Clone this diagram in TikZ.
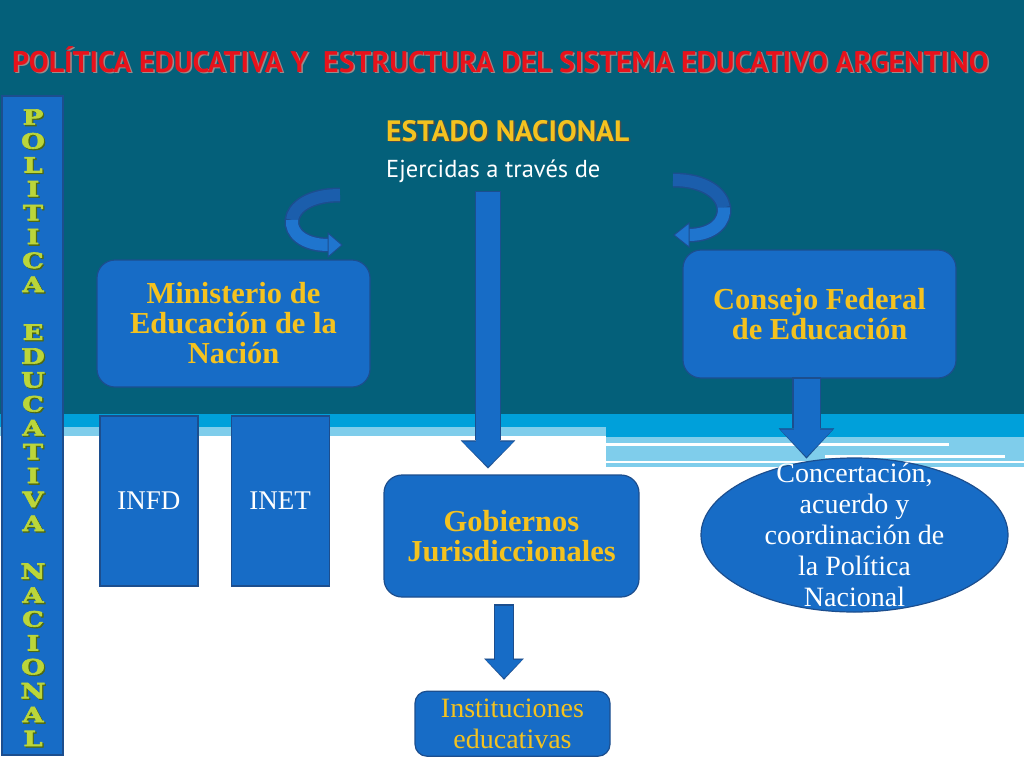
\documentclass[tikz,border=0pt]{standalone}
\usepackage{fontspec}
\setmainfont{Liberation Serif}
\newfontfamily\titulofont{PT Sans}
\newfontfamily\letrafont[FakeBold=3,FakeStretch=1.3]{DejaVu Serif}
\usepackage{xcolor}
\usetikzlibrary{arrows.meta,positioning,shapes.geometric,calc}

\definecolor{fondo}{HTML}{04607A}
\definecolor{franja}{HTML}{00A0DA}
\definecolor{franjaclara}{HTML}{7FCDEB}
\definecolor{azulcaja}{HTML}{176CC6}
\definecolor{bordeazul}{HTML}{1C4E8E}
\definecolor{dorado}{HTML}{F4C21F}
\definecolor{rojotitulo}{HTML}{E8121B}
\definecolor{sombratitulo}{HTML}{9A8C8C}
\definecolor{verdeletra}{HTML}{BBD63A}
\definecolor{verdeoscuro}{HTML}{4F6A12}
\definecolor{curvaatras}{HTML}{1B5EAC}
\definecolor{curvadelante}{HTML}{1F75CE}

\tikzset{
    titulo/.style={
        anchor=base west,
        inner sep=0pt,
        text=rojotitulo,
        font=\titulofont\bfseries\fontsize{29.8}{30}\selectfont
    },
    barra/.style={
        draw=bordeazul,
        fill=azulcaja,
        line width=1.2pt,
        minimum width=61pt,
        minimum height=659pt
    },
    letra/.style={
        inner sep=0pt,
        text=verdeletra,
        font=\letrafont\bfseries\fontsize{21}{21}\selectfont
    },
    caja/.style={
        draw=bordeazul,
        fill=azulcaja,
        line width=1.2pt,
        rounded corners=18pt,
        align=center,
        text=dorado,
        font=\bfseries\fontsize{30.5}{30}\selectfont
    },
    bloque/.style={
        draw=bordeazul,
        fill=azulcaja,
        line width=1.2pt,
        text=white,
        font=\fontsize{27}{31}\selectfont
    },
    textonormal/.style={
        align=center,
        inner sep=0pt,
        font=\fontsize{28}{31}\selectfont
    }
}

% flecha ancha con borde: inicio, fin, ancho, ancho punta, largo punta
\newcommand{\flechabloque}[5]{%
    \pgfmathsetmacro{\anchoborde}{#3+2.4}%
    \pgfmathsetmacro{\puntaborde}{#4+3.4}%
    \pgfmathsetmacro{\largoborde}{#5+3}%
    \draw[line width=\anchoborde pt, bordeazul, shorten <=-1.2pt,
        -{Triangle[width=\puntaborde pt, length=\largoborde pt, line width=0.01pt]}] #1 -- #2;
    \draw[line width=#3pt, azulcaja, shorten >=1.7pt,
        -{Triangle[width=#4pt, length=#5pt, line width=0.01pt]}] #1 -- #2;
}

\begin{document}
\begin{tikzpicture}[x=1pt,y=-1pt]
    \useasboundingbox (0,0) rectangle (1024,768);

    % fondo y franjas
    \fill[fondo] (0,0) rectangle (1024,414);
    \fill[franja] (0,414) rectangle (1024,427);
    \fill[franjaclara] (0,427) rectangle (606,436);
    \fill[franja] (606,427) rectangle (1024,437);
    \fill[franjaclara] (606,437) rectangle (1024,467);
    \fill[white] (606,443) rectangle (949,446);
    \fill[white] (825,455) rectangle (1005,458);
    \fill[white] (606,461) rectangle (1024,463);

    % titulo
    \node[titulo, text=sombratitulo] (titulosombra) at (13.5,73.5) {POLÍTICA EDUCATIVA Y~~ESTRUCTURA DEL SISTEMA EDUCATIVO ARGENTINO};
    \node[titulo] (titulo) at (12,72) {POLÍTICA EDUCATIVA Y~~ESTRUCTURA DEL SISTEMA EDUCATIVO ARGENTINO};

    % barra vertical con letras
    \node[barra] (barra) at (32.5,425.5) {};
    \foreach \letra [count=\k from 0] in {P,O,L,I,T,I,C,A,{},E,D,U,C,A,T,I,V,A,{},N,A,C,I,O,N,A,L}
    {
        \node[letra, text=verdeoscuro] (sombra\k) at (34.3,118.3+23.9*\k) {\letra};
        \node[letra] (letra\k) at (33,117+23.9*\k) {\letra};
    }

    % estado nacional
    \node[titulo, text=black!70, font=\titulofont\bfseries\fontsize{29.5}{30}\selectfont] (estadosombra) at (387.5,142.5) {ESTADO NACIONAL};
    \node[titulo, text=dorado, font=\titulofont\bfseries\fontsize{29.5}{30}\selectfont] (estado) at (386,141) {ESTADO NACIONAL};
    \node[titulo, text=white, font=\titulofont\fontsize{24.5}{26}\selectfont] (ejercidas) at (386,177) {Ejercidas a través de};

    % flechas curvas
    \draw[line width=15pt, bordeazul] (340,195) .. controls (309,195) and (293.5,207.5) .. (292,220)
        .. controls (290.5,232.5) and (303,245) .. (328,245);
    \draw[line width=12pt, curvaatras] (340,195) .. controls (309,195) and (293.5,207.5) .. (292,220);
    \draw[line width=12pt, curvadelante] (292,220) .. controls (290.5,232.5) and (303,245) .. (328.5,245);
    \filldraw[fill=curvadelante, draw=bordeazul, line width=1pt] (328,233) -- (342,245) -- (328,257) -- cycle;

    \draw[line width=15pt, bordeazul] (673,180) .. controls (705.5,180) and (721.75,193.75) .. (723.75,207.5)
        .. controls (725.75,221.25) and (713.5,235) .. (689,235);
    \draw[line width=12pt, curvaatras] (673,180) .. controls (705.5,180) and (721.75,193.75) .. (723.75,207.5);
    \draw[line width=12pt, curvadelante] (723.75,207.5) .. controls (725.75,221.25) and (713.5,235) .. (688.5,235);
    \filldraw[fill=curvadelante, draw=bordeazul, line width=1pt] (689,223) -- (674,235) -- (689,247) -- cycle;

    % cajas
    \node[caja, minimum width=273pt, minimum height=127pt] (ministerio) at (233.5,323.5) {Ministerio de\\Educación de la\\Nación};
    \node[caja, minimum width=273pt, minimum height=128pt] (consejo) at (819.5,314) {Consejo Federal\\de Educación};
    \node[bloque, minimum width=98pt, minimum height=170pt] (infd) at (149,501) {INFD};
    \node[bloque, minimum width=98pt, minimum height=170pt, right=32pt of infd] (inet) {INET};
    \node[caja, minimum width=255pt, minimum height=122pt] (gobiernos) at (511.5,536) {Gobiernos\\Jurisdiccionales};
    \node[caja, rounded corners=12pt, minimum width=195pt, minimum height=65pt, below=93pt of gobiernos.south, anchor=north,
        font=\fontsize{28}{31}\selectfont, xshift=1pt] (instituciones) {Instituciones\\educativas};
    \node[ellipse, draw=bordeazul, fill=azulcaja, line width=1.2pt, minimum width=307pt, minimum height=154pt,
        inner sep=0pt] (acuerdo) at (854.5,535) {};
    \node[textonormal, text=white] (acuerdotexto) at (acuerdo.center) {Concertación,\\acuerdo y\\coordinación de\\la Política\\Nacional};

    % flechas rectas
    \coordinate (inicio) at (488,192);
    \flechabloque{(inicio)}{($(inicio |- gobiernos.north)+(0,-6)$)}{24}{51}{25}
    \coordinate (cfe) at ($(consejo.south)+(-13,0)$);
    \flechabloque{(cfe)}{($(cfe |- acuerdo.north)+(0,1)$)}{26}{52}{27}
    \coordinate (gob) at ($(gobiernos.south)+(-7.5,8)$);
    \flechabloque{(gob)}{($(gob |- instituciones.north)+(0,-11)$)}{18}{36}{18}
\end{tikzpicture}
\end{document}
